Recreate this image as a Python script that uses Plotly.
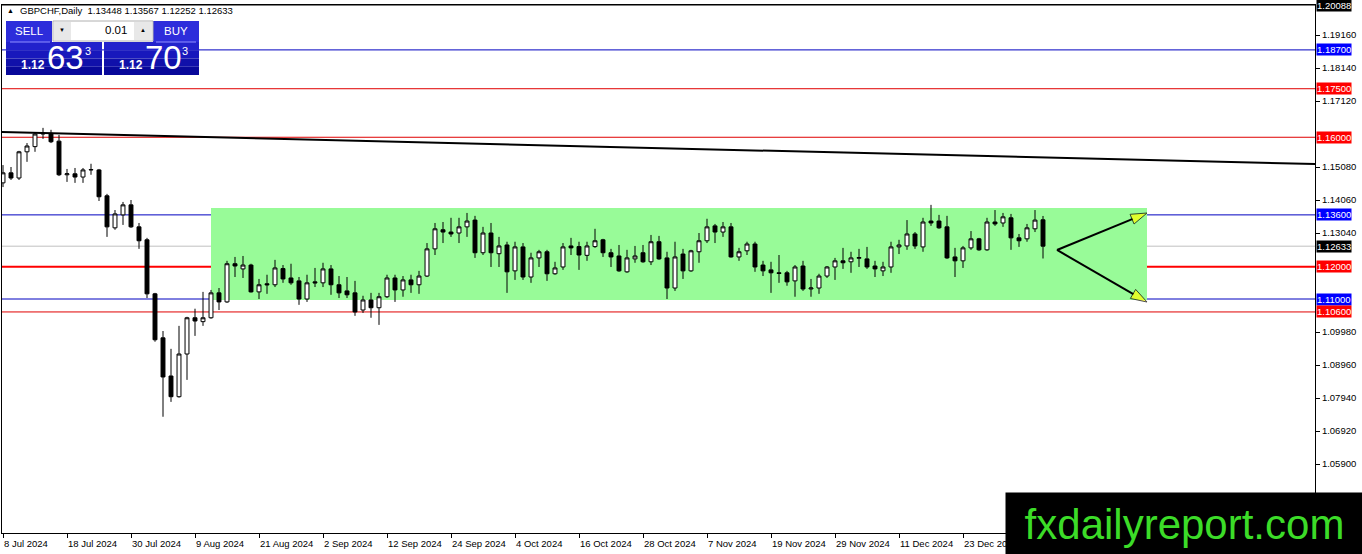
import plotly.graph_objects as go

# GBPCHF daily candles, 8 Jul 2024 -> 6 Jan 2025
opens = [
    1.1459, 1.1490, 1.1474, 1.1555, 1.1571, 1.1610, 1.1612, 1.1588, 1.1484, 1.1487,
    1.1477, 1.1499, 1.1499, 1.1419, 1.1320, 1.1360, 1.1391, 1.1323, 1.1283, 1.1116,
    1.0980, 1.0862, 1.0798, 1.0930, 1.1042, 1.1030, 1.1042, 1.1119, 1.1091, 1.1209,
    1.1193, 1.1205, 1.1122, 1.1147, 1.1144, 1.1194, 1.1165, 1.1156, 1.1100, 1.1153,
    1.1150, 1.1193, 1.1144, 1.1125, 1.1119, 1.1066, 1.1097, 1.1073, 1.1107, 1.1165,
    1.1128, 1.1159, 1.1144, 1.1171, 1.1255, 1.1314, 1.1307, 1.1304, 1.1323, 1.1344,
    1.1243, 1.1304, 1.1240, 1.1267, 1.1187, 1.1261, 1.1168, 1.1227, 1.1246, 1.1178,
    1.1199, 1.1264, 1.1262, 1.1235, 1.1262, 1.1283, 1.1243, 1.1233, 1.1184, 1.1224,
    1.1243, 1.1215, 1.1277, 1.1227, 1.1134, 1.1239, 1.1187, 1.1246, 1.1280, 1.1326,
    1.1307, 1.1323, 1.1230, 1.1249, 1.1270, 1.1205, 1.1190, 1.1181, 1.1181, 1.1156,
    1.1202, 1.1131, 1.1134, 1.1171, 1.1199, 1.1218, 1.1215, 1.1226, 1.1224, 1.1202,
    1.1187, 1.1199, 1.1261, 1.1264, 1.1301, 1.1261, 1.1341, 1.1341, 1.1323, 1.1230,
    1.1218, 1.1258, 1.1286, 1.1252, 1.1338, 1.1335, 1.1351, 1.1289, 1.1286, 1.1317,
    1.13448]
highs = [
    1.1514, 1.1508, 1.1558, 1.1582, 1.1616, 1.1629, 1.1623, 1.1607, 1.1502, 1.1505,
    1.1505, 1.1518, 1.1502, 1.1425, 1.1375, 1.1400, 1.1406, 1.1335, 1.1289, 1.1119,
    1.1001, 1.0946, 1.1017, 1.1045, 1.1070, 1.1122, 1.1128, 1.1134, 1.1218, 1.1230,
    1.1233, 1.1209, 1.1162, 1.1175, 1.1221, 1.1205, 1.1209, 1.1168, 1.1175, 1.1196,
    1.1212, 1.1205, 1.1171, 1.1168, 1.1156, 1.1110, 1.1119, 1.1119, 1.1175, 1.1175,
    1.1171, 1.1175, 1.1187, 1.1273, 1.1335, 1.1338, 1.1351, 1.1351, 1.1366, 1.1357,
    1.1323, 1.1335, 1.1292, 1.1277, 1.1277, 1.1273, 1.1243, 1.1252, 1.1252, 1.1215,
    1.1273, 1.1289, 1.1277, 1.1277, 1.1317, 1.1286, 1.1255, 1.1267, 1.1252, 1.1264,
    1.1267, 1.1298, 1.1295, 1.1246, 1.1277, 1.1255, 1.1252, 1.1304, 1.1348, 1.1332,
    1.1338, 1.1335, 1.1258, 1.1277, 1.1277, 1.1218, 1.1215, 1.1236, 1.1187, 1.1205,
    1.1218, 1.1162, 1.1178, 1.1202, 1.1227, 1.1258, 1.1246, 1.1255, 1.1261, 1.1218,
    1.1215, 1.1277, 1.1283, 1.1344, 1.1307, 1.1351, 1.1391, 1.1360, 1.1357, 1.1258,
    1.1264, 1.1310, 1.1289, 1.1351, 1.1375, 1.1366, 1.1363, 1.1301, 1.1332, 1.1375,
    1.13567]
lows = [
    1.1446, 1.1468, 1.1468, 1.1524, 1.1555, 1.1595, 1.1582, 1.1480, 1.1462, 1.1459,
    1.1459, 1.1484, 1.1403, 1.1292, 1.1314, 1.1329, 1.1320, 1.1255, 1.1103, 1.0968,
    1.0736, 1.0782, 1.0795, 1.0850, 1.0986, 1.1017, 1.1039, 1.1066, 1.1088, 1.1168,
    1.1165, 1.1120, 1.1100, 1.1116, 1.1137, 1.1150, 1.1144, 1.1082, 1.1091, 1.1137,
    1.1137, 1.1113, 1.1103, 1.1103, 1.1048, 1.1057, 1.1042, 1.1020, 1.1103, 1.1091,
    1.1107, 1.1119, 1.1116, 1.1168, 1.1236, 1.1273, 1.1292, 1.1273, 1.1292, 1.1227,
    1.1236, 1.1199, 1.1199, 1.1119, 1.1159, 1.1159, 1.1150, 1.1199, 1.1156, 1.1175,
    1.1190, 1.1236, 1.1190, 1.1218, 1.1258, 1.1230, 1.1199, 1.1184, 1.1181, 1.1212,
    1.1212, 1.1205, 1.1221, 1.1100, 1.1125, 1.1162, 1.1184, 1.1212, 1.1273, 1.1273,
    1.1292, 1.1228, 1.1218, 1.1236, 1.1184, 1.1171, 1.1119, 1.1150, 1.1141, 1.1107,
    1.1125, 1.1107, 1.1116, 1.1165, 1.1159, 1.1193, 1.1181, 1.1199, 1.1193, 1.1168,
    1.1171, 1.1181, 1.1239, 1.1252, 1.1255, 1.1246, 1.1326, 1.1317, 1.1224, 1.1168,
    1.1196, 1.1252, 1.1249, 1.1249, 1.1326, 1.1323, 1.1252, 1.1261, 1.1277, 1.1307,
    1.12252]
closes = [
    1.1490, 1.1474, 1.1555, 1.1573, 1.1610, 1.1612, 1.1586, 1.1484, 1.1487, 1.1477,
    1.1499, 1.1500, 1.1416, 1.1323, 1.1363, 1.1391, 1.1323, 1.1280, 1.1116, 1.0974,
    1.0859, 1.0798, 1.0930, 1.1042, 1.1032, 1.1042, 1.1119, 1.1091, 1.1209, 1.1202,
    1.1205, 1.1122, 1.1144, 1.1144, 1.1196, 1.1162, 1.1150, 1.1100, 1.1150, 1.1150,
    1.1193, 1.1144, 1.1119, 1.1113, 1.1060, 1.1097, 1.1073, 1.1107, 1.1165, 1.1128,
    1.1159, 1.1144, 1.1171, 1.1255, 1.1317, 1.1307, 1.1301, 1.1323, 1.1341, 1.1243,
    1.1304, 1.1243, 1.1264, 1.1184, 1.1261, 1.1168, 1.1227, 1.1246, 1.1178, 1.1196,
    1.1261, 1.1258, 1.1236, 1.1264, 1.1280, 1.1243, 1.1230, 1.1187, 1.1227, 1.1233,
    1.1215, 1.1277, 1.1224, 1.1134, 1.1230, 1.1187, 1.1249, 1.1280, 1.1323, 1.1307,
    1.1323, 1.1230, 1.1246, 1.1270, 1.1199, 1.1187, 1.1181, 1.1179, 1.1153, 1.1199,
    1.1131, 1.1134, 1.1171, 1.1199, 1.1218, 1.1212, 1.1227, 1.1228, 1.1199, 1.1193,
    1.1199, 1.1261, 1.1267, 1.1301, 1.1264, 1.1338, 1.1335, 1.1320, 1.1227, 1.1218,
    1.1258, 1.1286, 1.1252, 1.1338, 1.1332, 1.1354, 1.1289, 1.1280, 1.1320, 1.1344,
    1.12633]
bars = list(range(len(closes)))

date_ticks = [0, 8, 16, 24, 32, 40, 48, 56, 64, 72, 80, 88, 96, 104, 112, 120]
date_labels = ["8 Jul 2024", "18 Jul 2024", "30 Jul 2024", "9 Aug 2024", "21 Aug 2024",
               "2 Sep 2024", "12 Sep 2024", "24 Sep 2024", "4 Oct 2024", "16 Oct 2024",
               "28 Oct 2024", "7 Nov 2024", "19 Nov 2024", "29 Nov 2024", "11 Dec 2024",
               "23 Dec 2024"]

price_ticks = [1.19160, 1.18140, 1.17120, 1.15080, 1.14060, 1.13040,
               1.09980, 1.08960, 1.07940, 1.06920, 1.05900]

# horizontal levels: price, line colour, label colour, width
level_prices = [1.20088, 1.18700, 1.17500, 1.16000, 1.13600, 1.12633, 1.12000, 1.11000, 1.10600]
level_lines = ["black", "#0000c0", "#e00000", "#e00000", "#0000c0", "#c0c0c0", "#ff0000", "#0000c0", "#e00000"]
level_boxes = ["black", "#0000ff", "#ff0000", "#ff0000", "#0000ff", "black", "#ff0000", "#0000ff", "#ff0000"]
level_widths = [1, 1, 1, 1, 1, 1, 2, 1, 1]

range_box = dict(x0=26, x1=143, y0=1.1097, y1=1.1381)
trend_x = [-0.125, 164]
trend_y = [1.1616, 1.1517]
arrow_x = [131.75, 143]
arrow_up_y = [1.12515, 1.13658]
arrow_dn_y = [1.12515, 1.10907]

FONT = "Liberation Sans, Arial"

# pixel -> paper helpers (plot area is x 2..1315, y 5..533)
def fx(p):
    return (p - 2) / 1313.0

def fy(p):
    return (533 - p) / 528.0


fig = go.Figure()
fig.add_trace(go.Candlestick(
    x=bars, open=opens, high=highs, low=lows, close=closes,
    increasing=dict(line=dict(color="black", width=1), fillcolor="white"),
    decreasing=dict(line=dict(color="black", width=1), fillcolor="black"),
    whiskerwidth=0, hoverinfo="skip", showlegend=False))

for ys in (arrow_up_y, arrow_dn_y):
    fig.add_trace(go.Scatter(
        x=arrow_x, y=ys, mode="lines+markers", showlegend=False, hoverinfo="skip",
        line=dict(color="black", width=2),
        marker=dict(symbol="arrow", size=[0, 17], angleref="previous",
                    color="#ffff00", line=dict(color="black", width=1))))

shapes = [dict(type="rect", xref="x", yref="y", layer="below",
               fillcolor="#98fb98", line=dict(width=0), **range_box)]
for p, c, w in zip(level_prices, level_lines, level_widths):
    shapes.append(dict(type="line", xref="paper", yref="y", x0=0, x1=1, y0=p, y1=p,
                       layer="below", line=dict(color=c, width=w)))
shapes.append(dict(type="line", xref="x", yref="y", x0=trend_x[0], x1=trend_x[1],
                   y0=trend_y[0], y1=trend_y[1], layer="above",
                   line=dict(color="black", width=2)))


def prect(x0, y0, x1, y1, fill, line=None):
    shapes.append(dict(type="rect", xref="paper", yref="paper", layer="above",
                       x0=fx(x0), x1=fx(x1), y0=fy(y1), y1=fy(y0), fillcolor=fill,
                       line=dict(width=1 if line else 0, color=line or fill)))


# one-click trading panel
prect(6, 21, 52, 42, "#2d2ddb")
prect(153, 21, 199, 42, "#2d2ddb")
for i, col in enumerate(["#2222cc", "#1818bc", "#1010aa", "#08089a"]):
    prect(6, 42 + i * 8.25, 102, 42 + (i + 1) * 8.25, col)
    prect(104, 42 + i * 8.25, 199, 42 + (i + 1) * 8.25, col)
prect(53, 21, 153, 41, "white", "#b0b0b0")
prect(54, 22, 71, 40, "#e8e8e8")
prect(134, 22, 152, 40, "#e8e8e8")
shapes.append(dict(type="line", xref="paper", yref="paper", layer="above",
                   x0=fx(10), x1=fx(50), y0=fy(42), y1=fy(42), line=dict(color="#9090ff", width=1)))
shapes.append(dict(type="line", xref="paper", yref="paper", layer="above",
                   x0=fx(156), x1=fx(196), y0=fy(42), y1=fy(42), line=dict(color="#9090ff", width=1)))

annotations = []


def ptext(x, y, text, size, color="black", anchor="center", bold=False):
    annotations.append(dict(xref="paper", yref="paper", x=fx(x), y=fy(y), text=text,
                            showarrow=False, xanchor=anchor, yanchor="middle",
                            font=dict(family=FONT, size=size, color=color,
                                      weight="bold" if bold else "normal")))


ptext(5, 10, "▲", 7, anchor="left")
ptext(18, 10, "GBPCHF,Daily  1.13448 1.13567 1.12252 1.12633", 9.5, anchor="left")
ptext(29, 31, "SELL", 11.5, "white")
ptext(176, 31, "BUY", 11.5, "white")
ptext(129, 30, "0.01", 11.5, anchor="right")
ptext(62, 30, "▼", 6)
ptext(143, 30, "▲", 6)
ptext(33, 65, "1.12", 12, "white", bold=True)
ptext(65, 58, "63", 33, "white")
ptext(88, 51, "3", 11, "white")
ptext(131, 65, "1.12", 12, "white", bold=True)
ptext(163, 58, "70", 33, "white")
ptext(185, 51, "3", 11, "white")

# price labels on the right axis
for p, c in zip(level_prices, level_boxes):
    annotations.append(dict(xref="paper", yref="y", x=1, y=p, xanchor="left", yanchor="middle",
                            xshift=1, text=f"{p:.5f}", showarrow=False, bgcolor=c, borderpad=0,
                            font=dict(family=FONT, size=9.5, color="white")))

# date labels (left aligned to their tick)
for k, lab in zip(date_ticks, date_labels):
    annotations.append(dict(xref="x", yref="paper", x=k, y=fy(543), xanchor="left",
                            yanchor="middle", xshift=-1, text=lab, showarrow=False,
                            font=dict(family=FONT, size=9.5, color="black")))

# watermark
annotations.append(dict(xref="paper", yref="paper", x=fx(1005), y=fy(492), xanchor="left",
                        yanchor="top", width=357, height=62, bgcolor="black", borderpad=0,
                        text="fxdailyreport.com", showarrow=False, align="center", valign="middle",
                        font=dict(family=FONT, size=42, color="#3cdc28")))

fig.update_layout(
    width=1362, height=554,
    margin=dict(l=2, r=47, t=5, b=21),
    paper_bgcolor="white", plot_bgcolor="white",
    shapes=shapes, annotations=annotations,
    showlegend=False, hovermode=False,
    xaxis=dict(range=[-0.125, 164], tickvals=date_ticks, showticklabels=False,
               ticks="outside", ticklen=4, tickcolor="black",
               showline=True, linecolor="black", linewidth=1, mirror=True,
               showgrid=False, zeroline=False, rangeslider=dict(visible=False)),
    yaxis=dict(range=[1.03767, 1.20088], side="right", tickvals=price_ticks,
               ticktext=[f"{v:.5f}" for v in price_ticks],
               ticks="outside", ticklen=4, tickcolor="black",
               tickfont=dict(family=FONT, size=9.5, color="black"),
               showline=True, linecolor="black", linewidth=1, mirror=True,
               showgrid=False, zeroline=False),
)

fig.write_html("out.html", config={"displayModeBar": False},
               post_script="document.body.style.margin='0';document.body.style.overflow='hidden';")
